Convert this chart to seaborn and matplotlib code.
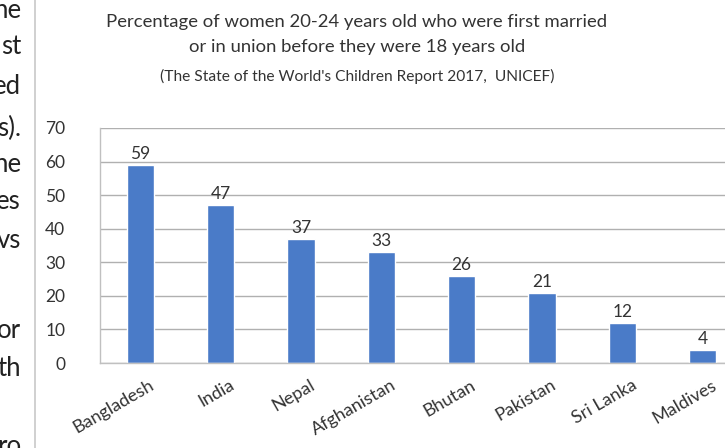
import matplotlib
matplotlib.use("Agg")
import matplotlib.pyplot as plt
import matplotlib.transforms as mtransforms
import seaborn as sns
import pandas as pd

# data
countries = ["Bangladesh", "India", "Nepal", "Afghanistan", "Bhutan",
             "Pakistan", "Sri Lanka", "Maldives"]
percent = [59, 47, 37, 33, 26, 21, 12, 4]

# fragments of the page text cut off at the left edge
side_text = ["he", "st", "ed", "s).", "he", "es", "vs", "or", "th", "ro"]
side_y = [10, 47, 86, 128, 165, 201, 240, 330, 368, 446]

df = pd.DataFrame({"country": countries, "percent": percent})

sns.set_theme(style="white")
plt.rcParams["font.family"] = ["Lato", "DejaVu Sans"]

fig = plt.figure(figsize=(7.25, 4.48), dpi=100)
ax = fig.add_axes([100 / 725, 1 - 363 / 448, 643 / 725, 235 / 448])

sns.barplot(data=df, x="country", y="percent", color="#4a7bc8",
            width=0.34, saturation=1, ax=ax)

ax.set_ylim(0, 70)
ax.set_yticks(range(0, 71, 10))
ax.yaxis.grid(True, color="#b0b0b0", linewidth=1)
ax.set_axisbelow(True)
for s in ["top", "right"]:
    ax.spines[s].set_visible(False)
for s in ["left", "bottom"]:
    ax.spines[s].set_color("#c0c0c0")
    ax.spines[s].set_linewidth(1)
ax.set_xlabel("")
ax.set_ylabel("")
ax.tick_params(axis="y", labelsize=12.5, colors="#333333", pad=25, length=0)
ax.tick_params(axis="x", labelsize=13, colors="#333333", length=0, pad=10)
plt.setp(ax.get_xticklabels(), rotation=30, ha="right", rotation_mode="anchor")
shift = mtransforms.ScaledTranslation(9 / 100, 0, fig.dpi_scale_trans)
for lbl in ax.get_xticklabels():
    lbl.set_transform(lbl.get_transform() + shift)

for p, v in zip(ax.patches, percent):
    ax.annotate(str(v), (p.get_x() + p.get_width() / 2, v),
                xytext=(0, 2), textcoords="offset points",
                ha="center", va="bottom", fontsize=12.5, color="#333333")

fig.text(357 / 725, 1 - 22 / 448,
         "Percentage of women 20-24 years old who were first married",
         ha="center", va="center", fontsize=13.3, color="#333333")
fig.text(357 / 725, 1 - 47 / 448,
         "or in union before they were 18 years old",
         ha="center", va="center", fontsize=13.3, color="#333333")
fig.text(357 / 725, 1 - 76 / 448,
         "(The State of the World's Children Report 2017,  UNICEF)",
         ha="center", va="center", fontsize=11.2, color="#333333")

# page margin with cut-off text
fig.add_artist(plt.Line2D([35 / 725, 35 / 725], [0, 1], color="#c8c8c8",
                          linewidth=1.2, transform=fig.transFigure))
for t, y in zip(side_text, side_y):
    fig.text(21 / 725, 1 - y / 448, t, ha="right", va="center",
             fontsize=18.5, color="#222222")

fig.savefig("out.png", dpi=100)
